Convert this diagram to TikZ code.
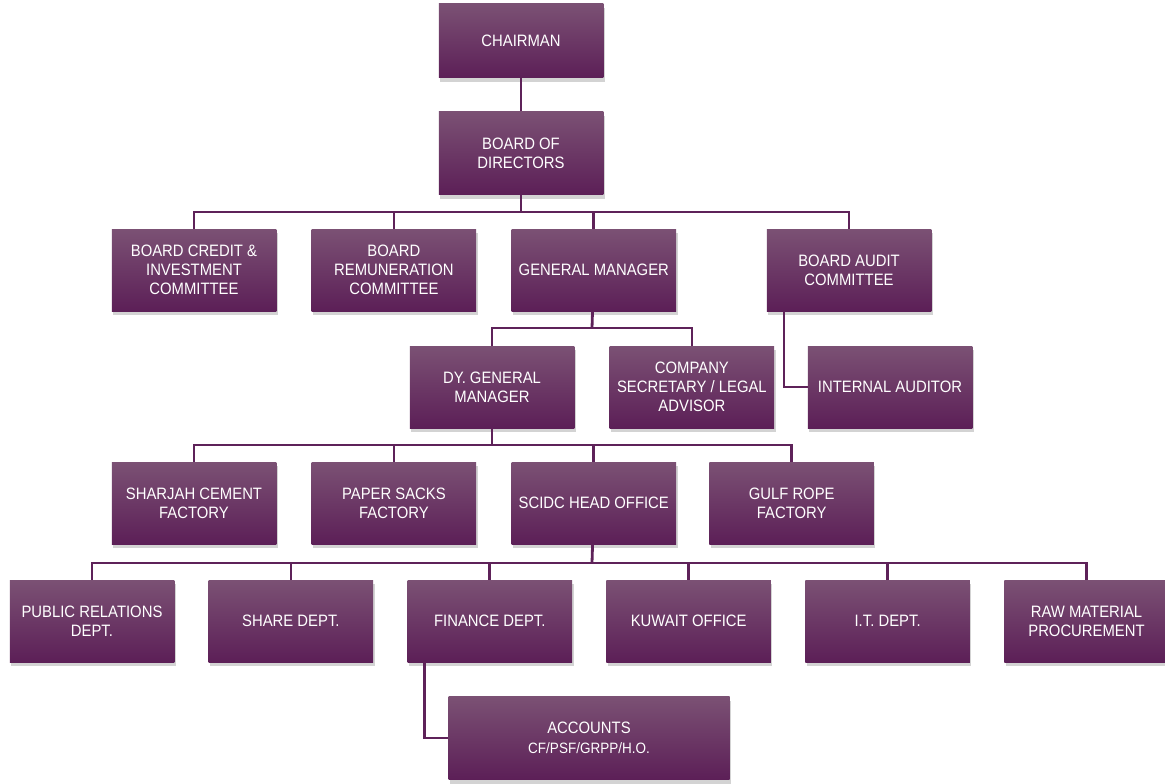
\documentclass[tikz,border=0pt]{standalone}
\usepackage{fontspec}
\setmainfont[FakeStretch=0.9]{Liberation Sans}
\usetikzlibrary{positioning, shadows}
\definecolor{plumtop}{HTML}{7B5174}
\definecolor{plummid}{HTML}{62265C}
\definecolor{plumbot}{HTML}{5C1F57}
\definecolor{plumline}{HTML}{5E2259}
\tikzset{
    orgbox/.style={minimum width=164.5pt, minimum height=82pt, inner sep=2pt, align=center,
        text=white, top color=plumtop, middle color=plummid, bottom color=plumbot,
        drop shadow={shadow xshift=1.5pt, shadow yshift=-4pt, opacity=0.35},
        font=\fontsize{16.5}{19}\selectfont}, % sets the look of each unit
    link/.style={draw=plumline, line width=2.8pt}, % the connecting lines
    node distance=35pt, % gap between boxes of one row
}
\begin{document}
\begin{tikzpicture}[x=1pt, y=-1pt]
    \useasboundingbox (0,0) rectangle (1165,784);

    % top of the chart
    \node[orgbox, minimum height=74pt] (chair) at (521,41) {CHAIRMAN};
    \node[orgbox, minimum height=83pt] (board) at (521,153) {BOARD OF\\DIRECTORS};

    % committees and general manager
    \node[orgbox] (credit) at (194,270) {BOARD CREDIT \&\\INVESTMENT\\COMMITTEE};
    \node[orgbox, right=of credit] (remun) {BOARD\\REMUNERATION\\COMMITTEE};
    \node[orgbox, right=of remun] (gm) {GENERAL MANAGER};
    \node[orgbox] (audit) at (849,270) {BOARD AUDIT\\COMMITTEE};

    \node[orgbox] (dgm) at (492,387) {DY. GENERAL\\MANAGER};
    \node[orgbox, right=of dgm] (sec) {COMPANY\\SECRETARY / LEGAL\\ADVISOR};
    \node[orgbox] (intaud) at (890,387) {INTERNAL AUDITOR};

    % factories
    \node[orgbox] (sharjah) at (194,503) {SHARJAH CEMENT\\FACTORY};
    \node[orgbox, right=of sharjah] (sacks) {PAPER SACKS\\FACTORY};
    \node[orgbox, right=of sacks] (scidc) {SCIDC HEAD OFFICE};
    \node[orgbox, right=33pt of scidc] (rope) {GULF ROPE\\FACTORY};

    % head office departments
    \node[orgbox] (pr) at (92,621) {PUBLIC RELATIONS\\DEPT.};
    \node[orgbox, right=34pt of pr] (share) {SHARE DEPT.};
    \node[orgbox, right=34pt of share] (fin) {FINANCE DEPT.};
    \node[orgbox, right=34pt of fin] (kuwait) {KUWAIT OFFICE};
    \node[orgbox, right=34pt of kuwait] (it) {I.T. DEPT.};
    \node[orgbox, right=34pt of it] (raw) {RAW MATERIAL\\PROCUREMENT};

    \node[orgbox, minimum width=281pt, minimum height=83pt] (acc) at (589,738)
        {ACCOUNTS\\[1pt]{\fontsize{15}{17}\selectfont CF/PSF/GRPP/H.O.}};

    % bus levels
    \coordinate (bus1) at (521,212);
    \coordinate (bus2) at (592,328);
    \coordinate (bus3) at (492,445);
    \coordinate (bus4) at (592,563);

    \draw[link] (chair) -- (board);
    \draw[link] (board) -- (bus1);
    \foreach \n in {credit, remun, gm, audit}
        \draw[link] (bus1) -| (\n);
    \draw[link] (gm) -- (bus2);
    \foreach \n in {dgm, sec}
        \draw[link] (bus2) -| (\n);
    \draw[link] ([xshift=-65pt]audit.south) |- (intaud);
    \draw[link] (dgm) -- (bus3);
    \foreach \n in {sharjah, sacks, scidc, rope}
        \draw[link] (bus3) -| (\n);
    \draw[link] (scidc) -- (bus4);
    \foreach \n in {pr, share, fin, kuwait, it, raw}
        \draw[link] (bus4) -| (\n);
    \draw[link] ([xshift=-65.5pt]fin.south) |- (acc);
\end{tikzpicture}
\end{document}
